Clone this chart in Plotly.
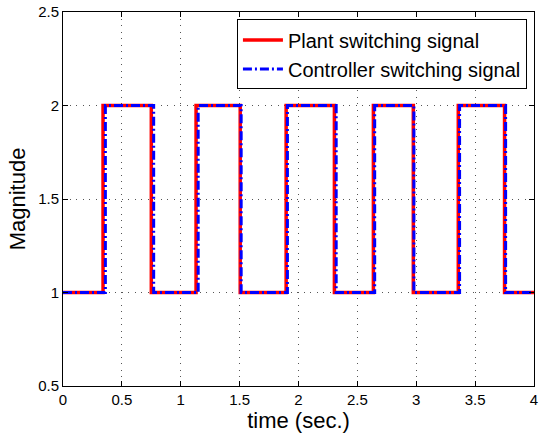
import plotly.graph_objects as go

plant_t = [0, 0.34, 0.75, 1.13, 1.505, 1.895, 2.305, 2.636, 2.975, 3.357, 3.75, 4.0]
plant_v = [1, 2, 1, 2, 1, 2, 1, 2, 1, 2, 1, 1]
ctrl_t = [0, 0.36, 0.77, 1.148, 1.513, 1.906, 2.32, 2.647, 2.98, 3.368, 3.759, 4.0]
ctrl_v = [1, 2, 1, 2, 1, 2, 1, 2, 1, 2, 1, 1]
x_ticks = [0, 0.5, 1, 1.5, 2, 2.5, 3, 3.5, 4]
x_labels = ["0", "0.5", "1", "1.5", "2", "2.5", "3", "3.5", "4"]
y_ticks = [0.5, 1, 1.5, 2, 2.5]
y_labels = ["0.5", "1", "1.5", "2", "2.5"]

fig = go.Figure()
fig.add_trace(go.Scatter(x=plant_t, y=plant_v, mode="lines", line_shape="hv",
                         name="Plant switching signal",
                         line=dict(color="#ff0000", width=3.5)))
fig.add_trace(go.Scatter(x=ctrl_t, y=ctrl_v, mode="lines", line_shape="hv",
                         name="Controller switching signal",
                         line=dict(color="#0000ff", width=3, dash="9px,3px,2px,3px")))

font = "Liberation Sans, Arial, Helvetica, sans-serif"
axis_common = dict(showline=True, linecolor="black", linewidth=1, mirror="ticks",
                   ticks="inside", ticklen=5, tickcolor="black",
                   showgrid=True, gridcolor="#555555", griddash="1px,5.5px", gridwidth=1,
                   zeroline=False, ticklabeloverflow="allow",
                   tickfont=dict(size=15, color="black", family=font))

fig.update_layout(
    width=541, height=437,
    margin=dict(l=63, r=3, t=12, b=51),
    paper_bgcolor="white", plot_bgcolor="white",
    font=dict(family=font, color="black"),
    xaxis=dict(range=[0, 4], tickvals=x_ticks, ticktext=x_labels,
               title=dict(text="time (sec.)", font=dict(size=22), standoff=0),
               **axis_common),
    yaxis=dict(range=[0.5, 2.5], tickvals=y_ticks, ticktext=y_labels,
               title=dict(text="Magnitude", font=dict(size=22), standoff=6),
               **axis_common),
    legend=dict(x=0.985, y=0.98, xanchor="right", yanchor="top",
                bgcolor="white", bordercolor="black", borderwidth=1,
                font=dict(size=20, family=font), itemwidth=40,
                tracegroupgap=0),
    showlegend=True,
)

fig.write_html("out.html")
